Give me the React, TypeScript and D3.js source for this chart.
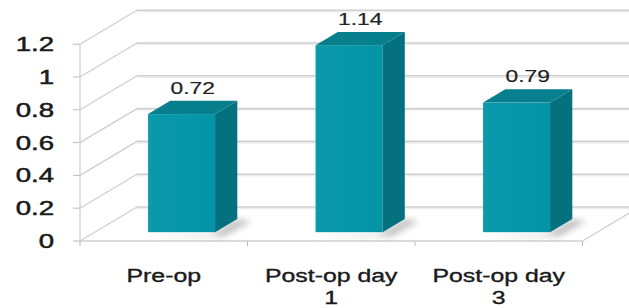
import React from "react";
import * as d3 from "d3";

const categories: string[][] = [["Pre-op"], ["Post-op day", "1"], ["Post-op day", "3"]];
const values: number[] = [0.72, 1.14, 0.79];
const valueLabels: string[] = ["0.72", "1.14", "0.79"];
const yTicks: number[] = [0, 0.2, 0.4, 0.6, 0.8, 1, 1.2];

const W = 629;
const H = 308;
const X0 = 80;
const X1 = 582.5;
const Y0 = 241;
const Y1 = 44.2;
const DX = 57;
const DY = -34;
const D0 = 0.26;
const D1 = 0.65;
const SX = 1.38;

export default function App() {
  const y = d3.scaleLinear().domain([0, 1.2]).range([Y0, Y1]);
  const x = d3
    .scaleBand<number>()
    .domain(d3.range(categories.length))
    .range([X0, X1])
    .paddingInner(0.6)
    .paddingOuter(0.3);
  const band = d3.scaleBand<number>().domain(d3.range(categories.length)).range([X0, X1]);
  const pts = (arr: [number, number][]) => arr.map((p) => p.join(",")).join(" ");
  const grid = "#cfcfcf";
  const font = "Liberation Sans, Arial, sans-serif";

  return (
    <svg width={W} height={H} style={{ position: "absolute", left: 0, top: 0, background: "#fff" }}>
      <defs>
        <filter id="blur" x="-50%" y="-50%" width="200%" height="200%">
          <feGaussianBlur stdDeviation="3" />
        </filter>
        <linearGradient id="front" x1="0" x2="1" y1="0" y2="0">
          <stop offset="0" stopColor="#0a9aab" />
          <stop offset="1" stopColor="#0593a6" />
        </linearGradient>
      </defs>
      {/* back wall gridlines */}
      {yTicks.map((t) => (
        <g key={"g" + t}>
          <line x1={X0 + DX} x2={W + 20} y1={y(t) + DY + 1.5} y2={y(t) + DY + 1.5} stroke="#eeeeee" strokeWidth={1.5} />
          <line x1={X0 + DX} x2={W + 20} y1={y(t) + DY} y2={y(t) + DY} stroke={grid} strokeWidth={1.6} />
          <line x1={X0} x2={X0 + DX} y1={y(t)} y2={y(t) + DY} stroke={grid} strokeWidth={1.3} />
          <line x1={X0 - 7} x2={X0} y1={y(t)} y2={y(t)} stroke="#bbb" strokeWidth={1} />
        </g>
      ))}
      {/* floor */}
      <line x1={X0} x2={X1} y1={Y0} y2={Y0} stroke={grid} strokeWidth={1.6} />
      <line x1={X1} x2={X1 + DX} y1={Y0} y2={Y0 + DY} stroke={grid} strokeWidth={1.3} />
      <line x1={X0} x2={X0} y1={Y1} y2={Y0} stroke="#c4c4c4" strokeWidth={1} />
      {d3.range(categories.length + 1).map((i) => {
        const xx = X0 + (i * (X1 - X0)) / categories.length;
        return <line key={"ct" + i} x1={xx} x2={xx} y1={Y0} y2={Y0 + 5} stroke="#bbb" strokeWidth={1} />;
      })}
      {/* bars */}
      {values.map((v, i) => {
        const bx = (x(i) as number) + 3;
        const bw = x.bandwidth();
        const fx = bx + D0 * DX;
        const baseY = Y0 + D0 * DY;
        const topY = baseY - (Y0 - y(v));
        const ddx = (D1 - D0) * DX;
        const ddy = (D1 - D0) * DY;
        return (
          <g key={"b" + i}>
            <polygon
              points={pts([
                [fx + bw - 4, baseY + 2],
                [fx + bw + ddx, baseY + ddy],
                [fx + bw + ddx + 14, baseY + ddy + 2],
                [fx + bw + 10, baseY + 4],
                [fx - 6, baseY + 4],
              ])}
              fill="#555"
              opacity={0.35}
              filter="url(#blur)"
            />
            <rect x={fx} y={topY} width={bw} height={baseY - topY} fill="url(#front)" />
            <polygon
              points={pts([
                [fx + bw, topY],
                [fx + bw + ddx, topY + ddy],
                [fx + bw + ddx, baseY + ddy],
                [fx + bw, baseY],
              ])}
              fill="#05717f"
            />
            <polygon
              points={pts([
                [fx, topY],
                [fx + ddx, topY + ddy],
                [fx + bw + ddx, topY + ddy],
                [fx + bw, topY],
              ])}
              fill="#077f8d"
            />
            <text
              transform={`translate(${fx + bw / 2 + ddx / 2},${topY + ddy - 7}) scale(${SX},1)`}
              textAnchor="middle"
              fontFamily={font}
              fontSize={16.5}
              fill="#222"
              stroke="#222"
              strokeWidth={0.2}
            >
              {valueLabels[i]}
            </text>
          </g>
        );
      })}
      {/* y tick labels */}
      {yTicks.map((t) => (
        <text
          key={"yl" + t}
          transform={`translate(54,${y(t) + 7}) scale(${SX},1)`}
          textAnchor="end"
          fontFamily={font}
          fontSize={20}
          fill="#1a1a1a"
          stroke="#1a1a1a"
          strokeWidth={0.5}
        >
          {d3.format("~g")(t)}
        </text>
      ))}
      {/* category labels */}
      {categories.map((lines, i) => {
        const cx = (band(i) as number) + band.bandwidth() / 2;
        return lines.map((l, j) => (
          <text
            key={"c" + i + j}
            transform={`translate(${cx},${282 + j * 22}) scale(${SX},1)`}
            textAnchor="middle"
            fontFamily={font}
            fontSize={18}
            fill="#1a1a1a"
            stroke="#1a1a1a"
            strokeWidth={0.35}
          >
            {l}
          </text>
        ));
      })}
    </svg>
  );
}
